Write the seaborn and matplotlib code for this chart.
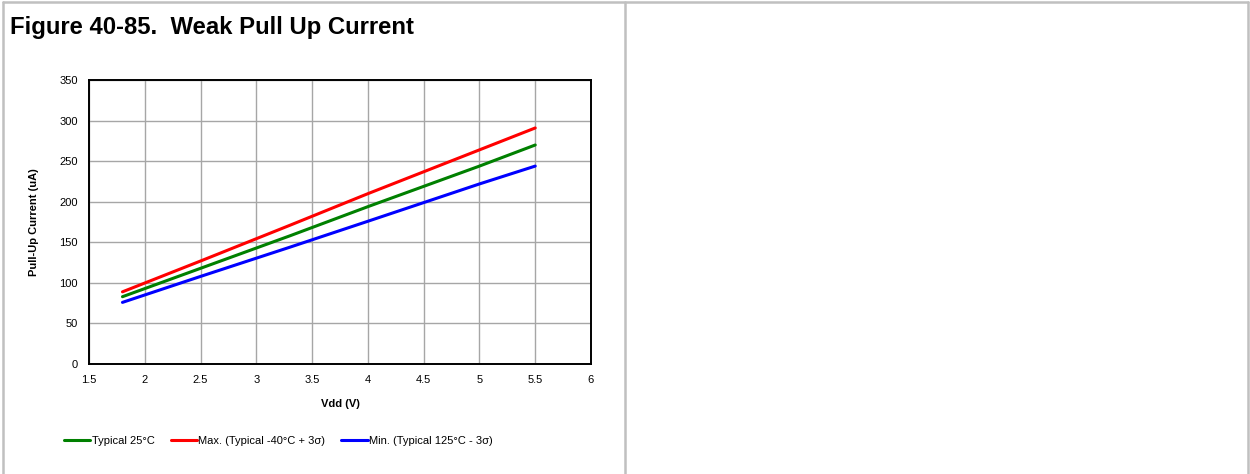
import numpy as np
import pandas as pd
import matplotlib
matplotlib.use("Agg")
import matplotlib.pyplot as plt
from matplotlib.lines import Line2D
import seaborn as sns

# values
vdd = [1.8, 2.5, 3.3, 4.0, 4.5, 5.0, 5.5]
typ_25 = [83, 118, 158, 194, 219, 244, 270]
max_m40 = [89, 127, 171, 210, 237, 264, 291]
min_125 = [76, 108, 144, 176, 199, 222, 244]
series_names = ["Typical 25°C", "Max. (Typical -40°C + 3σ)", "Min. (Typical 125°C - 3σ)"]
series_colors = ["#008000", "#ff0000", "#0000ff"]

df = pd.DataFrame({
    "Vdd": vdd * 3,
    "current": typ_25 + max_m40 + min_125,
    "series": [series_names[0]] * len(vdd) + [series_names[1]] * len(vdd) + [series_names[2]] * len(vdd),
})

sns.set_style("white")
plt.rcParams["font.family"] = ["Liberation Sans", "DejaVu Sans"]
plt.rcParams["text.color"] = "black"
plt.rcParams["axes.labelcolor"] = "black"
plt.rcParams["xtick.color"] = "black"
plt.rcParams["ytick.color"] = "black"

fig = plt.figure(figsize=(12.5, 4.74), dpi=100)
ax = fig.add_axes([0.0712, 0.232, 0.4016, 0.599])

sns.lineplot(data=df, x="Vdd", y="current", hue="series", hue_order=series_names,
             palette=series_colors, linewidth=2.2, ax=ax, legend=False)

ax.set_xlim(1.5, 6)
ax.set_ylim(0, 350)
ax.set_xticks(np.arange(1.5, 6.01, 0.5))
ax.set_xticklabels(["1.5", "2", "2.5", "3", "3.5", "4", "4.5", "5", "5.5", "6"])
ax.set_yticks(np.arange(0, 351, 50))
ax.grid(True, color="#a6a6a6", linewidth=1.0)
ax.tick_params(labelsize=8, length=0)
ax.tick_params(axis="y", pad=8)
ax.tick_params(axis="x", pad=8)
for s in ax.spines.values():
    s.set_color("black")
    s.set_linewidth(1.4)
ax.set_xlabel("Vdd (V)", fontsize=8, fontweight="bold", labelpad=10)
ax.set_ylabel("Pull-Up Current (uA)", fontsize=8, fontweight="bold", labelpad=15)

handles = [Line2D([0], [0], color=c, linewidth=2.2) for c in series_colors]
fig.legend(handles, series_names, loc="center left", bbox_to_anchor=(0.043, 0.069),
           ncol=3, frameon=False, fontsize=8, handlelength=2.4,
           handletextpad=0.1, columnspacing=1.45)

fig.text(0.008, 0.943, "Figure 40-85.  Weak Pull Up Current", fontsize=17.2,
         fontweight="bold", va="center", ha="left")

# table frame around the cells
frame_kw = dict(color="#c0c0c0", linewidth=1.8, transform=fig.transFigure)
fig.add_artist(Line2D([0.002, 0.998], [0.995, 0.995], **frame_kw))
fig.add_artist(Line2D([0.002, 0.002], [0.0, 0.995], **frame_kw))
fig.add_artist(Line2D([0.5, 0.5], [0.0, 0.995], **frame_kw))
fig.add_artist(Line2D([0.998, 0.998], [0.0, 0.995], **frame_kw))

fig.savefig("out.png", dpi=100, facecolor="white")
